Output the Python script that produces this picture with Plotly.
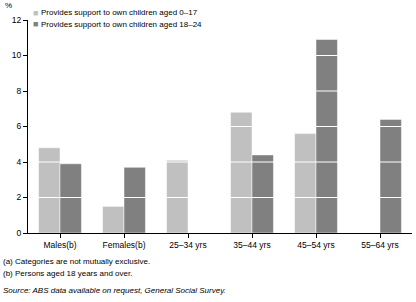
import plotly.graph_objects as go

categories = ["Males(b)", "Females(b)", "25–34 yrs", "35–44 yrs", "45–54 yrs", "55–64 yrs"]
series_names = ["Provides support to own children aged 0–17",
                "Provides support to own children aged 18–24"]
values_0_17 = [4.8, 1.5, 4.1, 6.8, 5.6, None]
values_18_24 = [3.9, 3.7, None, 4.4, 10.9, 6.4]
y_ticks = [0, 2, 4, 6, 8, 10, 12]
footnotes = ["(a) Categories are not mutually exclusive.",
             "(b) Persons aged 18 years and over."]
source = "Source: ABS data available on request, General Social Survey."

colors = ["#c0c0c0", "#808080"]
FONT = "Liberation Sans, Arial, sans-serif"

fig = go.Figure()
for name, vals, col in zip(series_names, [values_0_17, values_18_24], colors):
    fig.add_trace(go.Bar(x=categories, y=vals, name=name,
                         marker=dict(color=col, line=dict(color="white", width=0.5)),
                         showlegend=False))

# white gridlines drawn over bars
for t in y_ticks[1:-1]:
    fig.add_shape(type="line", xref="paper", yref="y", x0=0, x1=1, y0=t, y1=t,
                  line=dict(color="white", width=1), layer="above")

# custom legend
legend_y = [1.033, 0.981]
for name, col, yy in zip(series_names, colors, legend_y):
    fig.add_annotation(xref="paper", yref="paper", x=0.008, y=yy, text="■",
                       showarrow=False, xanchor="left", yanchor="middle",
                       font=dict(size=9, color=col, family=FONT))
    fig.add_annotation(xref="paper", yref="paper", x=0.029, y=yy, text=name,
                       showarrow=False, xanchor="left", yanchor="middle",
                       font=dict(size=8, color="black", family=FONT))

fig.add_annotation(xref="paper", yref="paper", x=-0.05, y=1.07, text="%",
                   showarrow=False, xanchor="center", yanchor="middle",
                   font=dict(size=8, color="black", family=FONT))

for i, fn in enumerate(footnotes):
    fig.add_annotation(xref="paper", yref="paper", x=-0.07, y=-0.136 - i * 0.052,
                       text=fn, showarrow=False, xanchor="left", yanchor="middle",
                       font=dict(size=8, color="black", family=FONT))
fig.add_annotation(xref="paper", yref="paper", x=-0.07, y=-0.268,
                   text="<i>" + source + "</i>", showarrow=False, xanchor="left",
                   yanchor="middle", font=dict(size=8, color="black", family=FONT))

fig.update_layout(
    width=416, height=302,
    margin=dict(l=28, r=4, t=20, b=69),
    paper_bgcolor="white", plot_bgcolor="white",
    barmode="group", bargap=0.33, bargroupgap=0,
    font=dict(family=FONT, size=8, color="black"),
    xaxis=dict(showline=True, linecolor="black", linewidth=1, ticks="outside",
               ticklen=4, tickcolor="black", showgrid=False, automargin=False,
               tickfont=dict(size=8.5)),
    yaxis=dict(range=[0, 12], tickvals=y_ticks, showline=True, linecolor="black",
               linewidth=1, ticks="outside", ticklen=4, tickcolor="black",
               showgrid=False, zeroline=False, automargin=False,
               tickfont=dict(size=8.5)),
)

fig.write_html("out.html", config={"displayModeBar": False},
               post_script="document.body.style.margin='0';document.body.style.overflow='hidden';")
